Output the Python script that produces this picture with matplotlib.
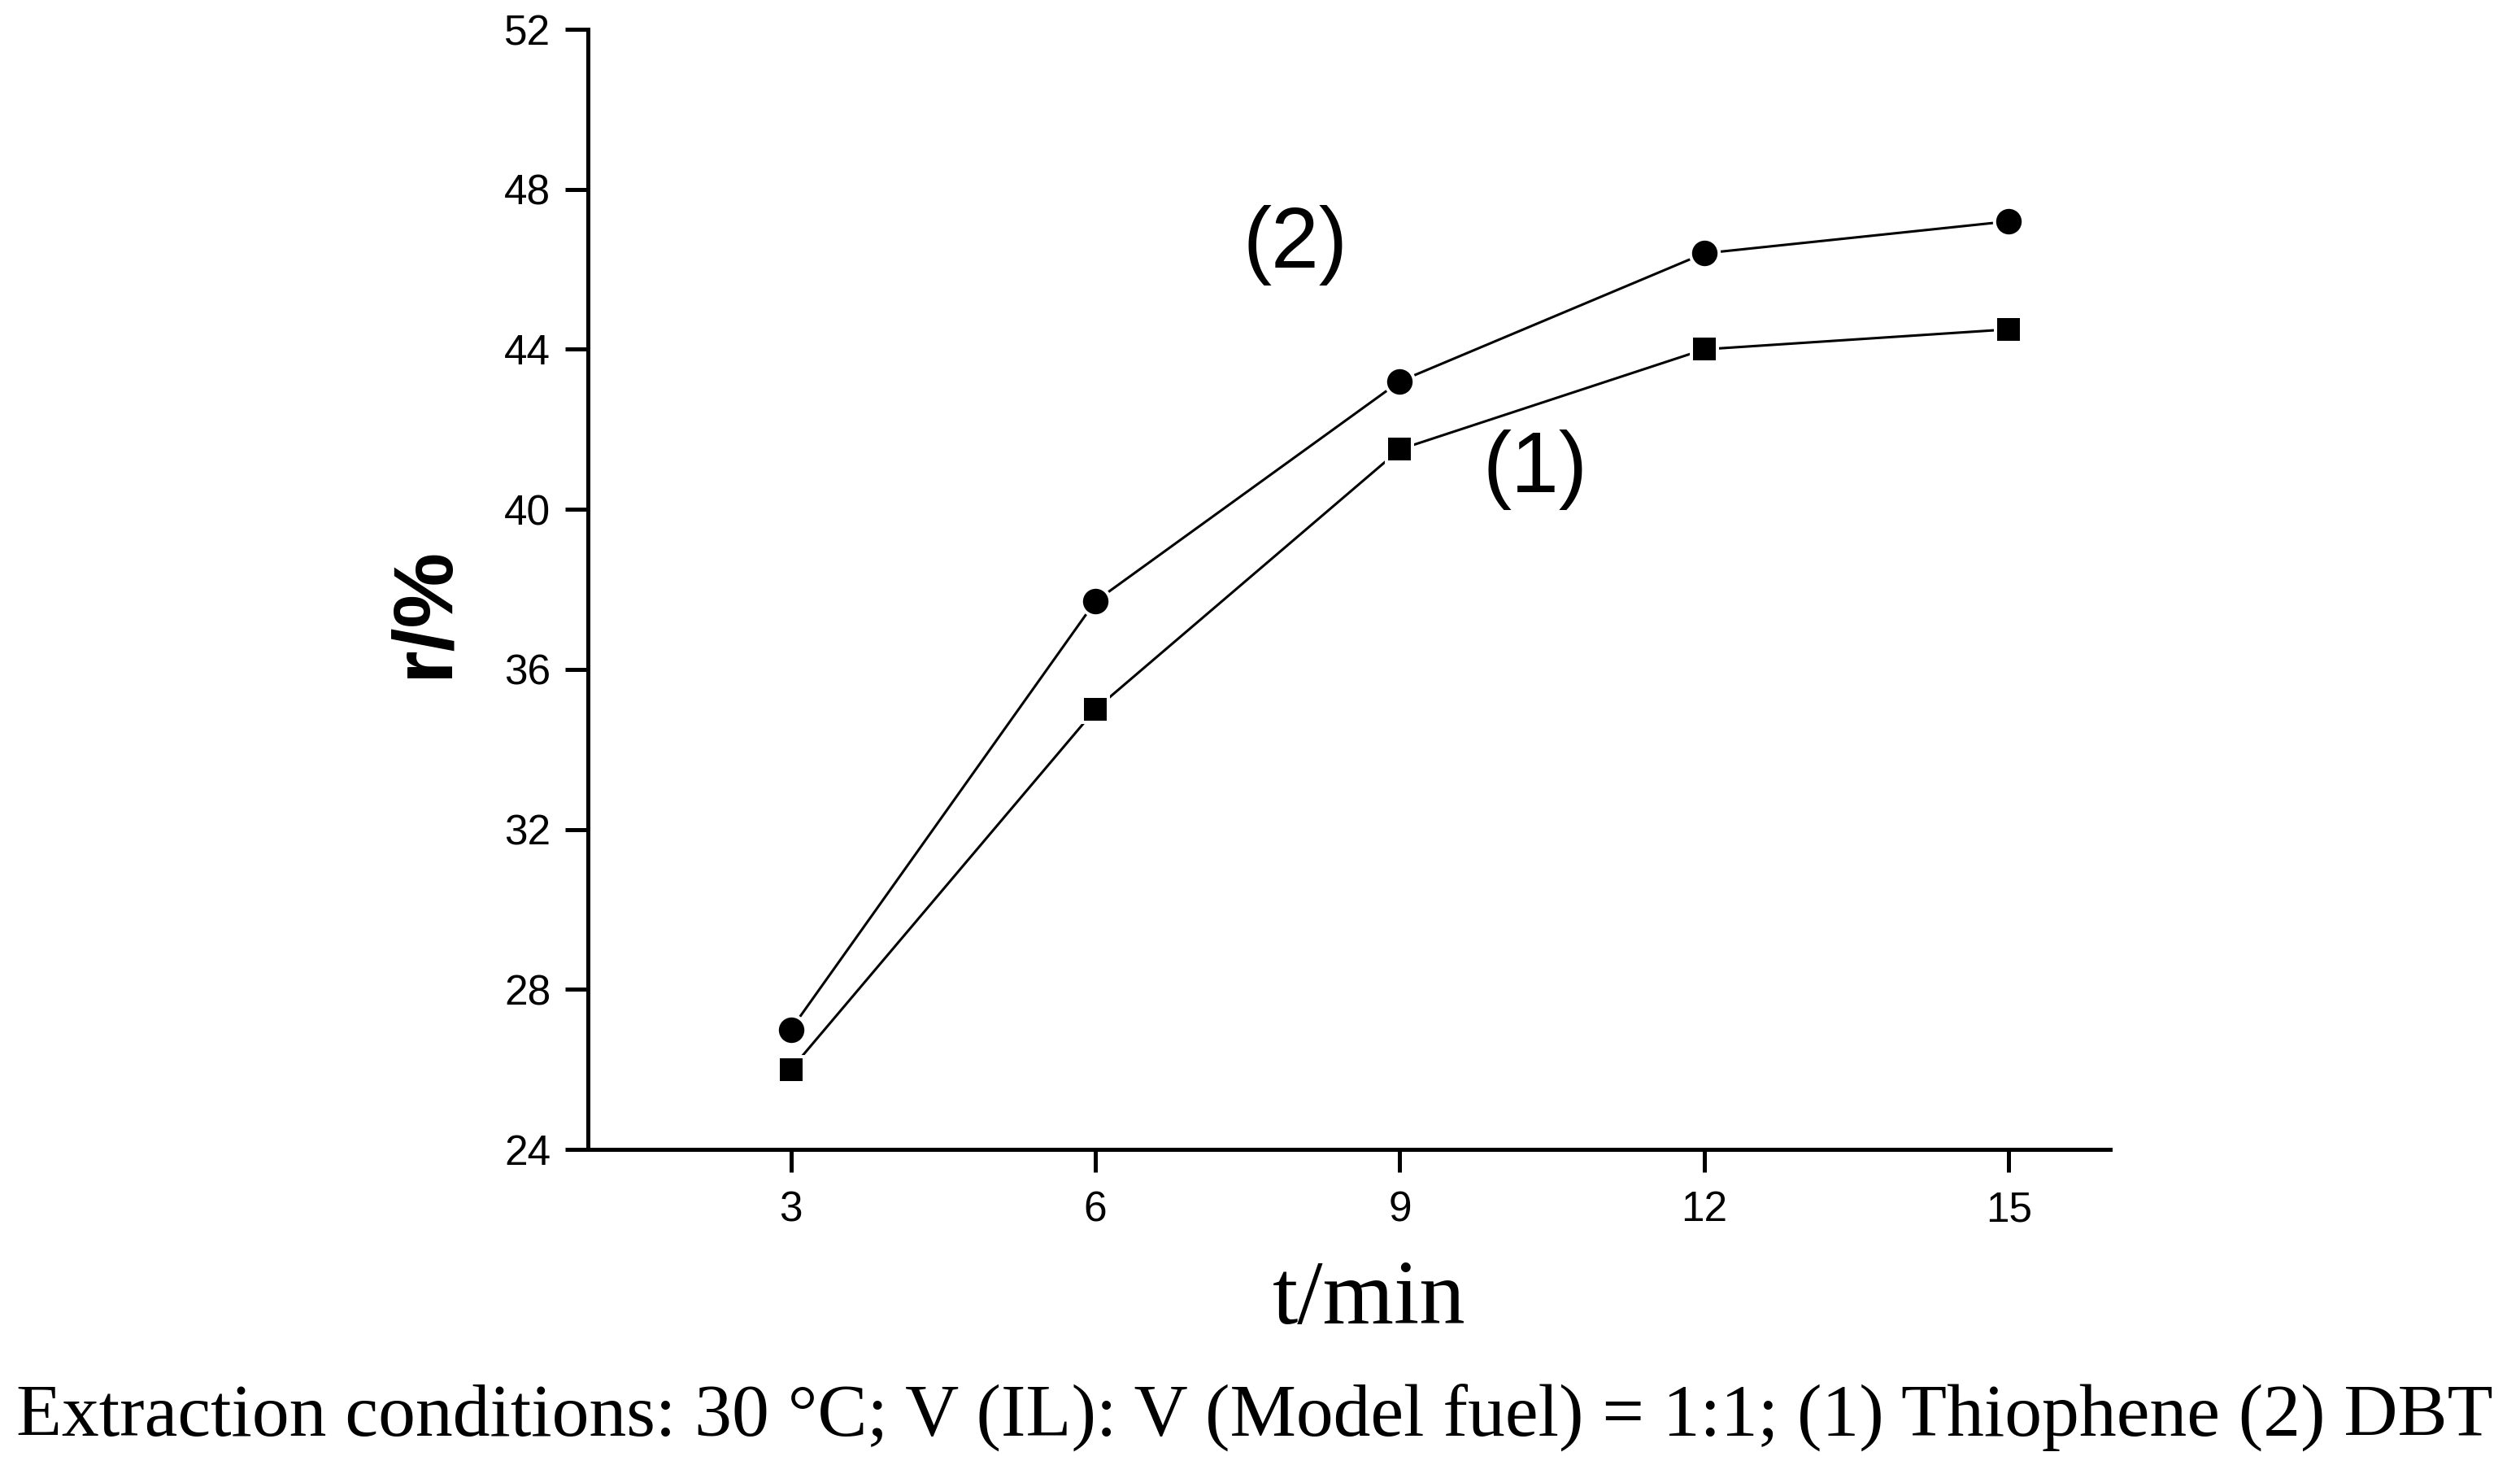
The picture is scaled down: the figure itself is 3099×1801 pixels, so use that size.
import matplotlib
matplotlib.use("Agg")
import matplotlib.pyplot as plt

# extraction time (min) and removal ratio r (%)
t_min = [3, 6, 9, 12, 15]
r_thiophene = [26.0, 35.0, 41.5, 44.0, 44.5]   # (1)
r_dbt = [27.0, 37.7, 43.2, 46.4, 47.2]         # (2)

y_ticks = [24, 28, 32, 36, 40, 44, 48, 52]
caption = "Extraction conditions: 30 \u00b0C; V (IL): V (Model fuel) = 1:1; (1) Thiophene (2) DBT"

plt.rcParams['font.family'] = ['Liberation Sans', 'DejaVu Sans']

fig = plt.figure(figsize=(30.99, 18.01), dpi=100)
ax = fig.add_axes([0.2333, 0.2154, 0.6041, 0.7646])

# white marker edges leave the small gap between line and symbol, like Origin does
ax.plot(t_min, r_thiophene, color='black', linewidth=2.2, marker='s', markersize=23.5,
        markerfacecolor='black', markeredgecolor='white', markeredgewidth=2.9)
ax.plot(t_min, r_dbt, color='black', linewidth=2.2, marker='o', markersize=25.5,
        markerfacecolor='black', markeredgecolor='white', markeredgewidth=2.9)

ax.text(7.97, 46.6, "(2)", fontsize=76, ha='center', va='center')
ax.text(10.33, 41.0, "(1)", fontsize=76, ha='center', va='center')

ax.set_xlim(1, 16)
ax.set_ylim(24, 52)
ax.set_xticks(t_min)
ax.set_yticks(y_ticks)

for side in ['top', 'right']:
    ax.spines[side].set_visible(False)
for side in ['left', 'bottom']:
    ax.spines[side].set_linewidth(3.6)

ax.tick_params(axis='both', direction='out', length=20, width=3.6, labelsize=37)
ax.tick_params(axis='x', pad=16)
ax.tick_params(axis='y', pad=13)

ax.set_ylabel("r/%", fontsize=75, fontweight='bold', va='center')
ax.yaxis.set_label_coords(-0.107, 0.48)

ax.set_xlabel("t/min", fontsize=81, family=['Liberation Serif'], va='top')
ax.xaxis.set_label_coords(0.513, -0.099)

fig.text(0.498, 1 - 1765 / 1801, caption, fontsize=66, family=['Liberation Serif'],
         ha='center', va='baseline')

fig.savefig("out.png", dpi=100, facecolor='white')
